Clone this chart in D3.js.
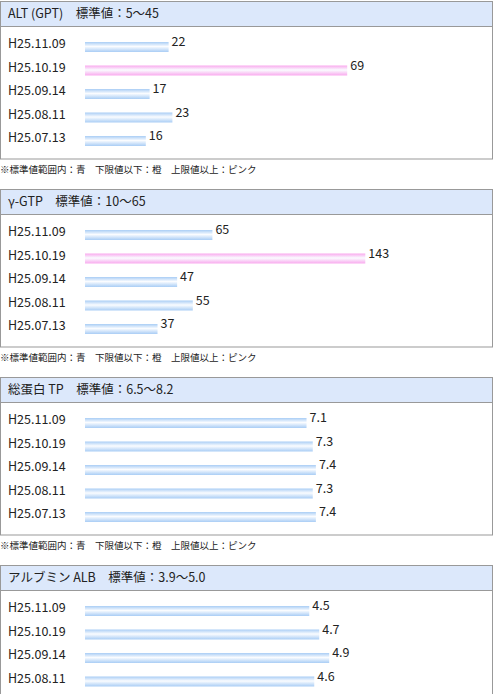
<!DOCTYPE html>
<html><head><meta charset="utf-8">
<script src="https://cdn.jsdelivr.net/npm/d3@7"></script>
<style>body{margin:0;background:#fff}</style>
</head><body>
<svg id="chart" width="493" height="694"></svg>
<script>
const titles = ["ALT (GPT)\u3000標準値：5〜45", "γ-GTP\u3000標準値：10〜65", "総蛋白 TP\u3000標準値：6.5〜8.2", "アルブミン ALB\u3000標準値：3.9〜5.0"];
const dates = [
  ["H25.11.09", "H25.10.19", "H25.09.14", "H25.08.11", "H25.07.13"],
  ["H25.11.09", "H25.10.19", "H25.09.14", "H25.08.11", "H25.07.13"],
  ["H25.11.09", "H25.10.19", "H25.09.14", "H25.08.11", "H25.07.13"],
  ["H25.11.09", "H25.10.19", "H25.09.14", "H25.08.11"]
];
const values = [[22, 69, 17, 23, 16], [65, 143, 47, 55, 37], [7.1, 7.3, 7.4, 7.3, 7.4], [4.5, 4.7, 4.9, 4.6]];
const highs = [45, 65, 8.2, 5.0];
const scaleMax = [100, 200, 10, 6]; // axis domain per panel
const scaleWidth = [380, 392, 312, 299];
const note = "※標準値範囲内：青\u3000下限値以下：橙\u3000上限値以上：ピンク";

const svg = d3.select("#chart");
const font = "'Noto Sans CJK JP', 'DejaVu Sans', sans-serif";

const defs = svg.append("defs");
[["blue", "#a9cdf5"], ["pink", "#f9a9ee"]].forEach(([id, c]) => {
  const g = defs.append("linearGradient").attr("id", id).attr("x1", 0).attr("y1", 0).attr("x2", 0).attr("y2", 1);
  g.append("stop").attr("offset", "0%").attr("stop-color", c);
  g.append("stop").attr("offset", "45%").attr("stop-color", "#fafcff");
  g.append("stop").attr("offset", "100%").attr("stop-color", c);
});

titles.forEach((t, i) => {
  const top = 1 + i * 188;
  const n = values[i].length;
  const boxBottom = top + 26 + 14 + n * 23.5;
  const g = svg.append("g");
  g.append("rect").attr("x", 0.5).attr("y", top + 0.5).attr("width", 492).attr("height", boxBottom - top)
    .attr("fill", "#fff").attr("stroke", "#999");
  g.append("rect").attr("x", 0.5).attr("y", top + 0.5).attr("width", 492).attr("height", 25)
    .attr("fill", "#dce8fb").attr("stroke", "#999");
  g.append("text").attr("x", 8).attr("y", top + 17).attr("font-family", font).attr("font-size", 12.5)
    .attr("fill", "#222").text(t);

  const x = d3.scaleLinear().domain([0, scaleMax[i]]).range([0, scaleWidth[i]]);
  const y = d3.scaleBand().domain(dates[i]).range([top + 31, top + 31 + n * 23.5]);

  const row = g.selectAll(".row").data(values[i]).enter().append("g");
  row.append("text").attr("x", 8).attr("y", (d, j) => y(dates[i][j]) + 16)
    .attr("font-family", font).attr("font-size", 12.5).attr("fill", "#222").text((d, j) => dates[i][j]);
  row.append("rect").attr("x", 85).attr("y", (d, j) => y(dates[i][j]) + 10)
    .attr("width", d => x(d)).attr("height", 10)
    .attr("fill", d => d > highs[i] ? "url(#pink)" : "url(#blue)");
  row.append("text").attr("x", d => 85 + x(d) + 3).attr("y", (d, j) => y(dates[i][j]) + 14)
    .attr("font-family", font).attr("font-size", 12.5).attr("fill", "#222").text(d => d);

  if (i < 3) {
    g.append("text").attr("x", 0).attr("y", boxBottom + 14).attr("font-family", font).attr("font-size", 9.5)
      .attr("fill", "#222").text(note);
  }
});
</script>
</body></html>
